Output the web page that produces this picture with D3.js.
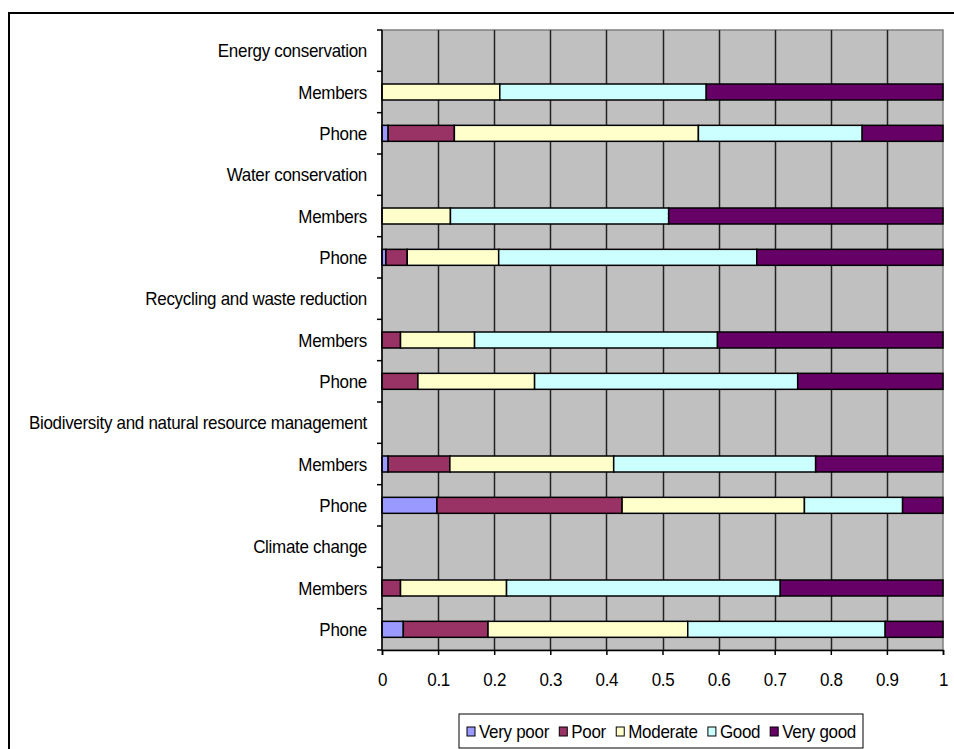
<!DOCTYPE html>
<html>
<head>
<meta charset="utf-8">
<script src="https://cdn.jsdelivr.net/npm/d3@7"></script>
<style>
  html, body { margin: 0; padding: 0; background: #fff; }
  svg { display: block; }
  text { font-family: "Liberation Sans", Arial, sans-serif; fill: #000; }
</style>
</head>
<body>
<svg id="chart" width="954" height="749"></svg>
<script>
// Row labels, top to bottom. Topic headings carry no bar.
const categories = [
  "Energy conservation", "Members", "Phone",
  "Water conservation", "Members", "Phone",
  "Recycling and waste reduction", "Members", "Phone",
  "Biodiversity and natural resource management", "Members", "Phone",
  "Climate change", "Members", "Phone"
];

const seriesNames = ["Very poor", "Poor", "Moderate", "Good", "Very good"];
const seriesColors = ["#9999FF", "#993366", "#FFFFCC", "#CCFFFF", "#660066"];

// Share of responses per rating (null = heading row)
const veryPoor = [null, 0,     0.011, null, 0,     0.007, null, 0,     0,     null, 0.011, 0.098, null, 0,     0.038];
const poor     = [null, 0,     0.118, null, 0,     0.038, null, 0.033, 0.064, null, 0.110, 0.330, null, 0.033, 0.151];
const moderate = [null, 0.210, 0.435, null, 0.122, 0.163, null, 0.132, 0.208, null, 0.292, 0.325, null, 0.189, 0.356];
const good     = [null, 0.368, 0.292, null, 0.389, 0.460, null, 0.433, 0.469, null, 0.360, 0.175, null, 0.488, 0.352];
const veryGood = [null, 0.422, 0.144, null, 0.489, 0.332, null, 0.402, 0.259, null, 0.227, 0.072, null, 0.290, 0.103];

const xTicks = [0, 0.1, 0.2, 0.3, 0.4, 0.5, 0.6, 0.7, 0.8, 0.9, 1];

const seriesValues = [veryPoor, poor, moderate, good, veryGood];
const rows = categories.map((c, i) => {
  const r = { idx: i, label: c, header: veryPoor[i] === null };
  seriesNames.forEach((s, k) => { r[s] = seriesValues[k][i] || 0; });
  return r;
});

const svg = d3.select("#chart");
const fontSize = 17;
const letterSp = "-0.3px";
const stretch = "scale(1,1.1)";   // slightly tall, narrow lettering

// Outer chart frame
svg.append("rect")
  .attr("x", 9).attr("y", 13)
  .attr("width", 1000).attr("height", 800)
  .attr("fill", "#fff").attr("stroke", "#000").attr("stroke-width", 2);

const plot = { left: 382, right: 943, top: 30, bottom: 650 };

const x = d3.scaleLinear().domain([0, 1]).range([plot.left, plot.right]);
const y = d3.scaleBand()
  .domain(d3.range(categories.length))
  .range([plot.top, plot.bottom])
  .paddingInner(0.613).paddingOuter(0.3065);

const yBand = d3.scaleBand().domain(d3.range(categories.length)).range([plot.top, plot.bottom]);

// Plot area background
svg.append("rect")
  .attr("x", plot.left).attr("y", plot.top)
  .attr("width", plot.right - plot.left).attr("height", plot.bottom - plot.top)
  .attr("fill", "#C0C0C0").attr("stroke", "#808080").attr("stroke-width", 1.5);

// Vertical gridlines
svg.append("g")
  .selectAll("line")
  .data(xTicks.filter(t => t > 0 && t < 1))
  .join("line")
  .attr("x1", d => Math.round(x(d)) + 0.5).attr("x2", d => Math.round(x(d)) + 0.5)
  .attr("y1", plot.top).attr("y2", plot.bottom)
  .attr("stroke", "#222").attr("stroke-width", 1.5);

// Stacked bars
const stack = d3.stack().keys(seriesNames);
const stacked = stack(rows.filter(r => !r.header));

svg.append("g")
  .selectAll("g")
  .data(stacked)
  .join("g")
  .attr("fill", (d, i) => seriesColors[i])
  .selectAll("rect")
  .data(d => d.filter(p => p[1] - p[0] > 0))
  .join("rect")
  .attr("x", d => x(d[0]))
  .attr("width", d => x(d[1]) - x(d[0]))
  .attr("y", d => y(d.data.idx))
  .attr("height", y.bandwidth())
  .attr("stroke", "#000").attr("stroke-width", 1.5);

// Category axis (left)
const yAxisG = svg.append("g");
yAxisG.append("line")
  .attr("x1", plot.left).attr("x2", plot.left)
  .attr("y1", plot.top).attr("y2", plot.bottom)
  .attr("stroke", "#000").attr("stroke-width", 1.5);
yAxisG.selectAll("line.tick")
  .data(d3.range(categories.length + 1))
  .join("line")
  .attr("class", "tick")
  .attr("x1", plot.left - 5).attr("x2", plot.left)
  .attr("y1", d => plot.top + d * yBand.step())
  .attr("y2", d => plot.top + d * yBand.step())
  .attr("stroke", "#000").attr("stroke-width", 1.5);
yAxisG.selectAll("text")
  .data(rows)
  .join("text")
  .attr("transform", d => `translate(367,${yBand(d.idx) + yBand.bandwidth() / 2}) ${stretch}`)
  .attr("dy", "0.36em")
  .attr("text-anchor", "end")
  .style("font-size", fontSize + "px")
  .style("letter-spacing", letterSp)
  .text(d => d.label);

// Value axis (bottom)
const xAxis = d3.axisBottom(x)
  .tickValues(xTicks)
  .tickFormat(d3.format("~g"))
  .tickSize(5);
const xAxisG = svg.append("g")
  .attr("transform", `translate(0,${plot.bottom})`)
  .call(xAxis);
xAxisG.select(".domain").attr("stroke", "#000").attr("stroke-width", 1.5);
xAxisG.selectAll(".tick line").attr("stroke", "#000").attr("stroke-width", 1.5);
xAxisG.selectAll(".tick text")
  .attr("y", 0)
  .attr("dy", "0.71em")
  .attr("transform", `translate(0,23) ${stretch}`)
  .attr("fill", "#000")
  .style("font-size", fontSize + "px")
  .style("letter-spacing", letterSp)
  .style("font-family", "'Liberation Sans', Arial, sans-serif");

// Legend
const legend = { left: 459, top: 714, width: 404, height: 34 };
const lg = svg.append("g");
lg.append("rect")
  .attr("x", legend.left).attr("y", legend.top)
  .attr("width", legend.width).attr("height", legend.height)
  .attr("fill", "#fff").attr("stroke", "#000").attr("stroke-width", 1);

const items = lg.selectAll("g.item")
  .data(seriesNames)
  .join("g").attr("class", "item");
items.append("rect")
  .attr("width", 8).attr("height", 9)
  .attr("fill", (d, i) => seriesColors[i])
  .attr("stroke", "#000").attr("stroke-width", 1);
items.append("text")
  .attr("transform", `translate(12,4.5) ${stretch}`)
  .attr("dy", "0.36em")
  .style("font-size", fontSize + "px")
  .style("letter-spacing", letterSp)
  .text(d => d);

// Spread legend entries across the box
const widths = [];
items.each(function () { widths.push(this.getBBox().width); });
const startX = 467, endX = 856;
const gap = (endX - startX - d3.sum(widths)) / (widths.length - 1);
let cx = startX;
items.attr("transform", (d, i) => {
  const t = `translate(${cx},${legend.top + 13})`;
  cx += widths[i] + gap;
  return t;
});
</script>
</body>
</html>
